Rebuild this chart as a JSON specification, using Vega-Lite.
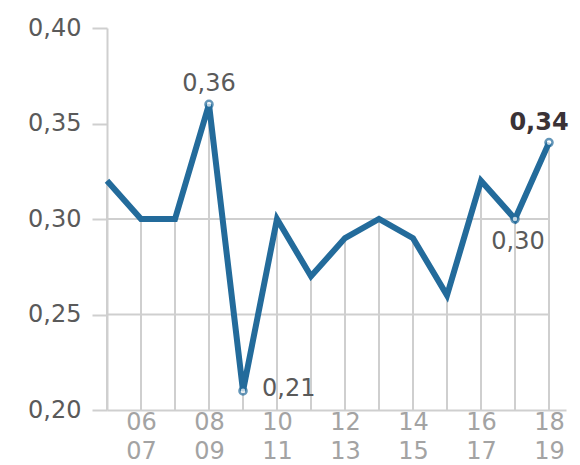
{
  "$schema": "https://vega.github.io/schema/vega-lite/v6.json",
  "autosize": "none",
  "width": 459,
  "height": 382,
  "padding": {"left": 107, "top": 28, "right": 14, "bottom": 55},
  "background": "white",
  "config": {"view": {"stroke": null}, "font": "DejaVu Sans"},
  "data": {"values": [
    {"i": 0, "season": "05/06", "v": 0.32, "base": 0.2},
    {"i": 1, "season": "06/07", "v": 0.30, "base": 0.2},
    {"i": 2, "season": "07/08", "v": 0.30, "base": 0.2},
    {"i": 3, "season": "08/09", "v": 0.36, "base": 0.2, "lbl": "0,36", "pos": "top"},
    {"i": 4, "season": "09/10", "v": 0.21, "base": 0.2, "lbl": "0,21", "pos": "right"},
    {"i": 5, "season": "10/11", "v": 0.30, "base": 0.2},
    {"i": 6, "season": "11/12", "v": 0.27, "base": 0.2},
    {"i": 7, "season": "12/13", "v": 0.29, "base": 0.2},
    {"i": 8, "season": "13/14", "v": 0.30, "base": 0.2},
    {"i": 9, "season": "14/15", "v": 0.29, "base": 0.2},
    {"i": 10, "season": "15/16", "v": 0.26, "base": 0.2},
    {"i": 11, "season": "16/17", "v": 0.32, "base": 0.2},
    {"i": 12, "season": "17/18", "v": 0.30, "base": 0.2, "lbl": "0,30", "pos": "below"},
    {"i": 13, "season": "18/19", "v": 0.34, "base": 0.2, "lbl": "0,34", "pos": "last"}
  ]},
  "layer": [
    {
      "mark": {"type": "rule", "color": "#cfcfcf", "strokeWidth": 2},
      "encoding": {
        "x": {"field": "i", "type": "quantitative", "scale": {"domain": [0, 13.5], "nice": false, "zero": false},
          "axis": {"values": [1, 3, 5, 7, 9, 11, 13], "labelExpr": "[format(datum.value+5,'02d'), format(datum.value+6,'02d')]",
            "title": null, "grid": false, "ticks": false, "domainColor": "#cfcfcf", "domainWidth": 2,
            "labelFont": "DejaVu Sans", "labelFontSize": 24, "labelColor": "#a3a3a3", "labelPadding": 0, "labelLineHeight": 29, "labelBaseline": "top", "labelFlush": false}},
        "y": {"field": "v", "type": "quantitative", "scale": {"domain": [0.2, 0.4], "nice": false, "zero": false},
          "axis": {"values": [0.2, 0.25, 0.3, 0.35, 0.4], "labelExpr": "replace(format(datum.value,'.2f'),'.',',')",
            "title": null, "grid": false, "tickSize": 15, "tickColor": "#cfcfcf", "tickWidth": 2, "domainColor": "#cfcfcf", "domainWidth": 2,
            "labelFont": "DejaVu Sans", "labelFontSize": 24, "labelColor": "#5a5a5a", "labelPadding": 11}},
        "y2": {"field": "base"}
      }
    },
    {
      "data": {"values": [{"g": 0.25, "x0": 0, "x1": 13}, {"g": 0.30, "x0": 0, "x1": 13}]},
      "mark": {"type": "rule", "color": "#cfcfcf", "strokeWidth": 2},
      "encoding": {
        "y": {"field": "g", "type": "quantitative"},
        "x": {"field": "x0", "type": "quantitative"},
        "x2": {"field": "x1"}
      }
    },
    {
      "mark": {"type": "line", "color": "#236b9b", "strokeWidth": 6, "strokeJoin": "miter", "strokeCap": "butt"},
      "encoding": {
        "x": {"field": "i", "type": "quantitative"},
        "y": {"field": "v", "type": "quantitative"}
      }
    },
    {
      "transform": [{"filter": "datum.lbl"}],
      "mark": {"type": "point", "shape": "circle", "filled": true, "fill": "white", "stroke": "#236b9b", "strokeWidth": 2.5, "size": 50},
      "encoding": {
        "x": {"field": "i", "type": "quantitative"},
        "y": {"field": "v", "type": "quantitative"}
      }
    },
    {
      "transform": [{"filter": "datum.pos == 'top'"}],
      "mark": {"type": "text", "font": "DejaVu Sans", "fontSize": 24, "color": "#5a5a5a", "align": "center", "baseline": "alphabetic", "dy": -13},
      "encoding": {"x": {"field": "i", "type": "quantitative"}, "y": {"field": "v", "type": "quantitative"}, "text": {"field": "lbl"}}
    },
    {
      "transform": [{"filter": "datum.pos == 'right'"}],
      "mark": {"type": "text", "font": "DejaVu Sans", "fontSize": 24, "color": "#5a5a5a", "align": "left", "baseline": "alphabetic", "dx": 19, "dy": 5},
      "encoding": {"x": {"field": "i", "type": "quantitative"}, "y": {"field": "v", "type": "quantitative"}, "text": {"field": "lbl"}}
    },
    {
      "transform": [{"filter": "datum.pos == 'below'"}],
      "mark": {"type": "text", "font": "DejaVu Sans", "fontSize": 24, "color": "#5a5a5a", "align": "center", "baseline": "alphabetic", "dy": 30, "dx": 3},
      "encoding": {"x": {"field": "i", "type": "quantitative"}, "y": {"field": "v", "type": "quantitative"}, "text": {"field": "lbl"}}
    },
    {
      "transform": [{"filter": "datum.pos == 'last'"}],
      "mark": {"type": "text", "font": "DejaVu Sans", "fontSize": 24, "fontWeight": "bold", "color": "#3a3236", "align": "center", "baseline": "alphabetic", "dy": -13, "dx": -10},
      "encoding": {"x": {"field": "i", "type": "quantitative"}, "y": {"field": "v", "type": "quantitative"}, "text": {"field": "lbl"}}
    }
  ]
}
